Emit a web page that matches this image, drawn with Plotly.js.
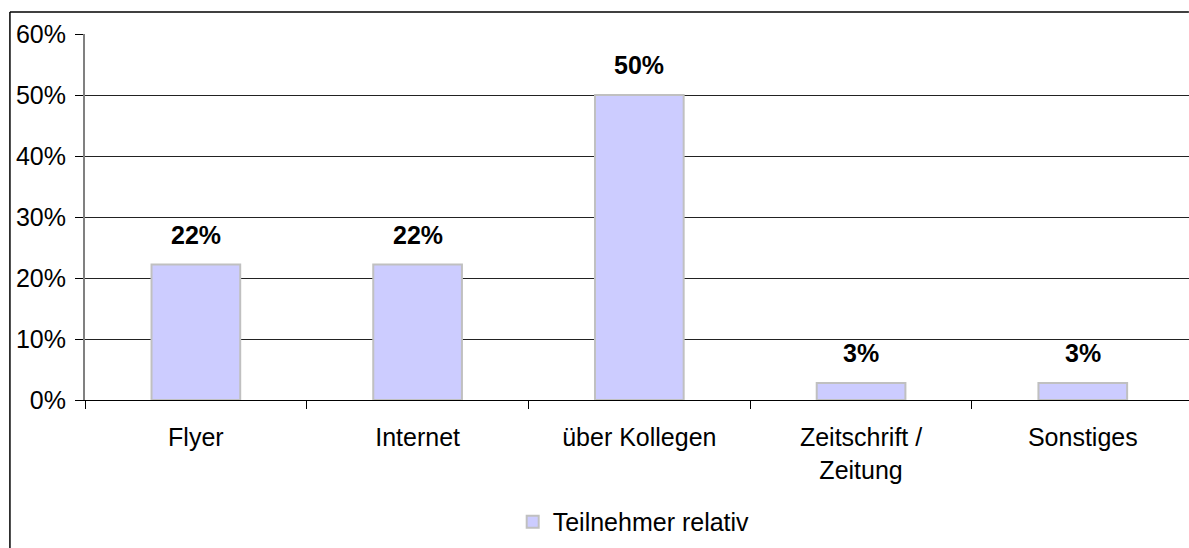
<!DOCTYPE html>
<html>
<head>
<meta charset="utf-8">
<script src="https://cdn.plot.ly/plotly-3.0.1.min.js"></script>
<style>
html,body{margin:0;padding:0;background:#fff;overflow:hidden;width:1189px;height:548px;}
#chart{width:1189px;height:548px;}
</style>
</head>
<body>
<div id="chart"></div>
<script>
var categories = ["Flyer", "Internet", "über Kollegen", "Zeitschrift /<br>Zeitung", "Sonstiges"];
var values = [0.222, 0.222, 0.50, 0.028, 0.028];
var labels = ["22%", "22%", "50%", "3%", "3%"];
var seriesName = "Teilnehmer relativ";
var yTicks = [0, 0.1, 0.2, 0.3, 0.4, 0.5, 0.6];

var FONT = "Liberation Sans, Arial, sans-serif";

var trace = {
  type: "bar",
  x: categories,
  y: values,
  name: seriesName,
  width: 0.4,
  marker: {color: "#CCCCFF", line: {color: "#C0C0C0", width: 2}},
  hoverinfo: "skip",
  showlegend: true
};

var annotations = categories.map(function(c, i){
  return {
    x: c, y: values[i], xref: "x", yref: "y",
    text: "<b>" + labels[i] + "</b>",
    showarrow: false, yanchor: "bottom", yshift: 14,
    font: {family: FONT, size: 25, color: "#000"}
  };
});

var layout = {
  width: 1189, height: 548,
  margin: {l: 85, r: 0, t: 34, b: 148, pad: 0},
  paper_bgcolor: "#fff", plot_bgcolor: "#fff",
  font: {family: FONT, size: 25, color: "#000"},
  bargap: 0.6,
  xaxis: {
    type: "category",
    range: [-0.5, 4.479],
    showline: true, linecolor: "#000", linewidth: 1,
    ticks: "outside", tickson: "boundaries", ticklen: 8, tickcolor: "#000", tickwidth: 1,
    ticklabelstandoff: 15,
    showgrid: false, zeroline: false,
    tickfont: {family: FONT, size: 25, color: "#000"},
    fixedrange: true
  },
  yaxis: {
    range: [0, 0.6],
    tickvals: yTicks,
    tickformat: ".0%",
    showline: true, linecolor: "#808080", linewidth: 2,
    ticks: "outside", ticklen: 8, tickcolor: "#000", tickwidth: 1,
    ticklabelstandoff: 4,
    showgrid: true, gridcolor: "#222", gridwidth: 1,
    zeroline: false,
    tickfont: {family: FONT, size: 25, color: "#000"},
    fixedrange: true
  },
  legend: {
    orientation: "h", x: 0.497, xanchor: "center", y: -0.333, yanchor: "middle",
    font: {family: FONT, size: 25, color: "#000"},
    bgcolor: "rgba(0,0,0,0)"
  },
  annotations: annotations,
  shapes: [
    {type: "line", xref: "paper", yref: "paper", x0: -0.068, x1: 0.9999, y0: 1.0601, y1: 1.0601,
     line: {color: "#000", width: 1.5}, layer: "below"},
    {type: "line", xref: "paper", yref: "paper", x0: -0.068, x1: -0.068, y0: -0.41, y1: 1.0601,
     line: {color: "#000", width: 1.5}, layer: "below"}
  ]
};

Plotly.newPlot("chart", [trace], layout, {displayModeBar: false, staticPlot: true});
</script>
</body>
</html>
